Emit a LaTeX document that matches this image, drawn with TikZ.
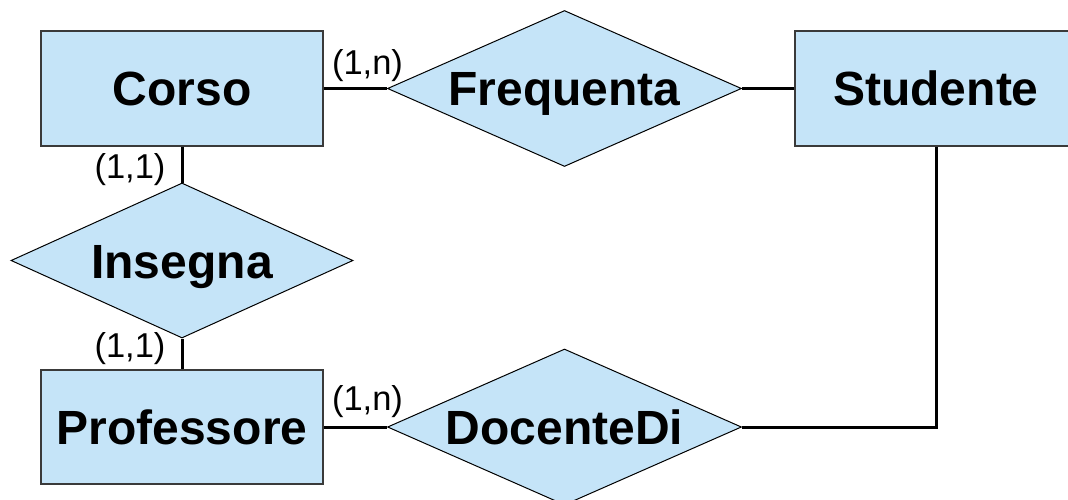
\documentclass[tikz,border=0pt]{standalone}
\usepackage{fontspec}
\setmainfont{Liberation Sans}
\usetikzlibrary{shapes.geometric}
\definecolor{erfill}{HTML}{C5E4F8}
\definecolor{erline}{HTML}{3A3A3A}
\tikzset{
  entity/.style={rectangle, draw=erline, line width=1.3pt, fill=erfill, inner sep=0pt,
    minimum width=282pt, font=\fontsize{48}{50}\selectfont\bfseries, text height=35pt, text depth=0pt},
  relation/.style={diamond, draw=black, line width=1pt, fill=erfill, inner sep=0pt, aspect=2.27,
    font=\fontsize{48}{50}\selectfont\bfseries, text height=35pt, text depth=0pt},
  card/.style={inner sep=0pt, font=\fontsize{34.5}{36}\selectfont},
  conn/.style={line width=3pt, black}
}
\begin{document}
\begin{tikzpicture}[x=1pt,y=-1pt]
\useasboundingbox (0,0) rectangle (1068,500);
\clip (0,0) rectangle (1068,500);
\node[entity, minimum height=115pt] (corso) at (182,88.5) {Corso};
\node[entity, minimum height=115pt] (studente) at (936,88.5) {Studente};
\node[entity, minimum height=114pt] (prof) at (182,427) {Professore};
\node[relation, minimum width=354pt, minimum height=156pt] (freq) at (564.5,88.5) {Frequenta};
\node[relation, minimum width=342pt, minimum height=155pt] (ins) at (182,260.5) {Insegna};
\node[relation, minimum width=354pt, minimum height=156pt] (doc) at (564.5,427) {DocenteDi};
\draw[conn] (corso.east) -- (freq.west);
\draw[conn] (freq.east) -- (studente.west);
\draw[conn] (corso.south) -- (ins.north);
\draw[conn] (ins.south) -- (prof.north);
\draw[conn] (prof.east) -- (doc.west);
\draw[conn] (doc.east) -| (studente.south);
\node[card] (c1) at (367.5,66) {(1,n)};
\node[card] (c2) at (130,170) {(1,1)};
\node[card] (c3) at (130,349) {(1,1)};
\node[card] (c4) at (367.5,402) {(1,n)};
\end{tikzpicture}
\end{document}
